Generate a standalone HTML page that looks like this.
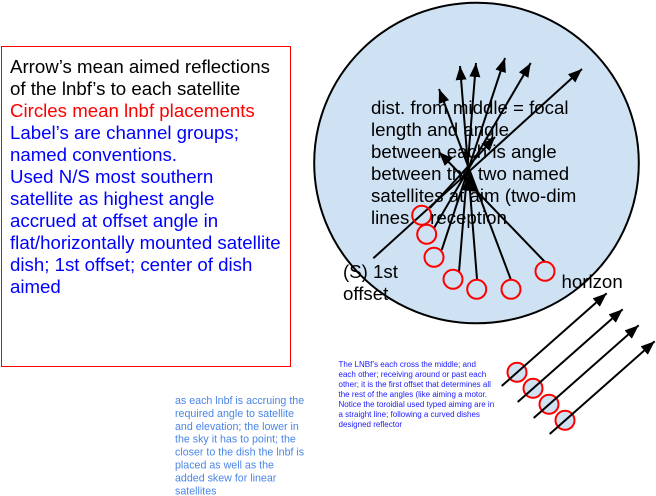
<!DOCTYPE html>
<html>
<head>
<meta charset="utf-8">
<style>
html,body{margin:0;padding:0;background:#fff;width:656px;height:496px;overflow:hidden}
svg{display:block}
text{font-family:"Liberation Sans",sans-serif;white-space:pre}
.a{font-size:18.67px}
.s{font-size:8px;fill:#1a1aff}
.m{font-size:10.67px;fill:#4a86e8}
.l{stroke:#000;stroke-width:2;fill:none}
.c{stroke:#ff0000;stroke-width:2;fill:none}
.d{stroke:#ff0000;stroke-width:2;fill:#cfe2f3}
</style>
</head>
<body>
<svg width="656" height="496" viewBox="0 0 656 496" xmlns="http://www.w3.org/2000/svg">
<defs>
<marker id="h" markerUnits="userSpaceOnUse" markerWidth="16" markerHeight="12" refX="14" refY="5.5" orient="auto">
<path d="M0 0L14 5.5L0 11Z" fill="#000"/>
</marker>
<marker id="k" markerUnits="userSpaceOnUse" markerWidth="16" markerHeight="12" refX="14" refY="5.5" orient="auto">
<path d="M0 0L14 5.5L0 11Z" fill="#000"/>
</marker>
</defs>

<rect x="1.5" y="46.5" width="289" height="320" fill="#fff" stroke="#ff0000" stroke-width="1"/>
<g class="a">
<text x="10" y="73" fill="#000">Arrow’s mean aimed reflections</text>
<text x="10" y="95" fill="#000">of the lnbf’s to each satellite</text>
<text x="10" y="117" fill="#ff0000">Circles mean lnbf placements</text>
<g fill="#0000ff">
<text x="10" y="139">Label’s are channel groups;</text>
<text x="10" y="161">named conventions.</text>
<text x="10" y="183">Used N/S most southern</text>
<text x="10" y="205">satellite as highest angle</text>
<text x="10" y="227">accrued at offset angle in</text>
<text x="10" y="249">flat/horizontally mounted satellite</text>
<text x="10" y="271">dish; 1st offset; center of dish</text>
<text x="10" y="293">aimed</text>
</g>
</g>

<ellipse cx="476.5" cy="163" rx="162.3" ry="160.3" fill="#cfe2f3" stroke="#000" stroke-width="2"/>

<g class="l">
<line x1="373.3" y1="258.3" x2="582" y2="69" marker-end="url(#h)"/>
<line x1="434" y1="228" x2="530.7" y2="63" marker-end="url(#h)"/>
<line x1="441.7" y1="250" x2="505" y2="58" marker-end="url(#h)"/>
<line x1="459" y1="272" x2="476" y2="63" marker-end="url(#h)"/>
<line x1="477" y1="279" x2="460" y2="66" marker-end="url(#h)"/>
<line x1="511" y1="280" x2="439" y2="89" marker-end="url(#h)"/>
<line x1="545" y1="262" x2="439" y2="152" marker-end="url(#h)"/>
<line x1="430" y1="208" x2="495" y2="137" marker-end="url(#h)"/>
</g>
<path d="M470 172L477 192L462 190Z" fill="#000"/>

<g class="c">
<circle cx="421.7" cy="215.3" r="9.5"/>
<circle cx="426.7" cy="234.3" r="9.5"/>
<circle cx="434" cy="257.3" r="9.5"/>
<circle cx="453" cy="279.3" r="9.5"/>
<circle cx="476.7" cy="289.3" r="9.5"/>
<circle cx="511" cy="289.3" r="9.5"/>
<circle cx="545" cy="271.3" r="9.5"/>
</g>

<g class="a" fill="#000">
<text x="371" y="114">dist. from middle = focal</text>
<text x="371" y="136">length and angle</text>
<text x="371" y="158">between each is angle</text>
<text x="371" y="180">between the two named</text>
<text x="371" y="202">satellites at aim (two-dim</text>
<text x="371" y="224">lines    reception</text>
<text x="343" y="278">(S) 1st</text>
<text x="343" y="300">offset</text>
<text x="561.5" y="288">horizon</text>
</g>

<g class="d">
<circle cx="517" cy="372.3" r="9.5"/>
<circle cx="533" cy="388.3" r="9.5"/>
<circle cx="549" cy="404.3" r="9.5"/>
<circle cx="565" cy="420.3" r="9.5"/>
</g>
<g class="l">
<line x1="501.7" y1="386" x2="606.7" y2="293.3" marker-end="url(#k)"/>
<line x1="517.7" y1="402" x2="622.7" y2="309.3" marker-end="url(#k)"/>
<line x1="533.7" y1="418" x2="638.7" y2="325.3" marker-end="url(#k)"/>
<line x1="549.7" y1="434" x2="654.7" y2="341.3" marker-end="url(#k)"/>
</g>

<g class="s">
<text x="338.5" y="367">The LNBf’s each cross the middle; and</text>
<text x="338.5" y="377">each other; receiving around or past each</text>
<text x="338.5" y="387">other; it is the first offset that determines all</text>
<text x="338.5" y="397">the rest of the angles (like aiming a motor.</text>
<text x="338.5" y="407">Notice the toroidial used typed aiming are in</text>
<text x="338.5" y="417">a straight line; following a curved dishes</text>
<text x="338.5" y="427">designed reflector</text>
</g>

<g class="m">
<text x="175" y="404">as each lnbf is accruing the</text>
<text x="175" y="417">required angle to satellite</text>
<text x="175" y="430">and elevation; the lower in</text>
<text x="175" y="442.5">the sky it has to point; the</text>
<text x="175" y="455.5">closer to the dish the lnbf is</text>
<text x="175" y="468.5">placed as well as the</text>
<text x="175" y="481.5">added skew for linear</text>
<text x="175" y="494.5">satellites</text>
</g>
</svg>
</body>
</html>
